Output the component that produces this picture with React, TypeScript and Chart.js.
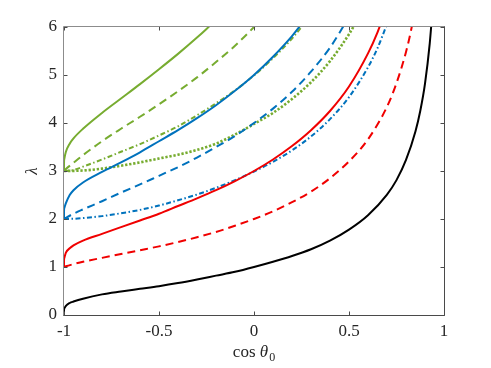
import React, { useEffect, useRef } from "react";
import { Chart, registerables } from "chart.js";
Chart.register(...registerables);

// ---- axis ticks ----
const xTicks = [-1, -0.5, 0, 0.5, 1];
const xTickLabels = ["-1", "-0.5", "0", "0.5", "1"];
const yTicks = [0, 1, 2, 3, 4, 5, 6];
const yTickLabels = ["0", "1", "2", "3", "4", "5", "6"];

// ---- curves (cos θ0 , λ) ----
const blackX = [-1, -0.9999, -0.999, -0.99, -0.97, -0.95, -0.9, -0.8, -0.7, -0.6, -0.5, -0.4, -0.3, -0.2, -0.1, 0, 0.1, 0.2, 0.3, 0.4, 0.5, 0.6, 0.7, 0.75, 0.8, 0.85, 0.875, 0.9, 0.925, 0.935];
const blackY = [0, 0.09, 0.13, 0.19, 0.25, 0.28, 0.34, 0.43, 0.49, 0.545, 0.6, 0.665, 0.74, 0.82, 0.9, 1.0, 1.11, 1.23, 1.37, 1.55, 1.78, 2.08, 2.51, 2.81, 3.23, 3.83, 4.25, 4.82, 5.66, 6.13];

const redSolidX = [-1, -0.9999, -0.999, -0.99, -0.97, -0.95, -0.9, -0.8, -0.7, -0.6, -0.5, -0.4, -0.3, -0.2, -0.1, 0, 0.1, 0.2, 0.3, 0.4, 0.5, 0.6, 0.65, 0.7];
const redSolidY = [1, 1.12, 1.18, 1.3, 1.39, 1.45, 1.55, 1.69, 1.83, 1.97, 2.11, 2.27, 2.43, 2.6, 2.79, 3.0, 3.24, 3.52, 3.85, 4.25, 4.76, 5.45, 5.89, 6.43];

const redDashX = [-1, -0.99, -0.95, -0.9, -0.8, -0.7, -0.6, -0.5, -0.4, -0.3, -0.2, -0.1, 0, 0.1, 0.2, 0.3, 0.4, 0.5, 0.6, 0.7, 0.75, 0.8, 0.825, 0.85];
const redDashY = [1, 1.015, 1.06, 1.11, 1.19, 1.27, 1.35, 1.43, 1.52, 1.62, 1.73, 1.86, 2.0, 2.16, 2.35, 2.57, 2.85, 3.2, 3.66, 4.34, 4.83, 5.48, 5.9, 6.42];

const blueSolidX = [-1, -0.9999, -0.999, -0.99, -0.97, -0.95, -0.9, -0.8, -0.7, -0.6, -0.5, -0.4, -0.3, -0.2, -0.1, 0, 0.1, 0.2, 0.25];
const blueSolidY = [2, 2.15, 2.22, 2.33, 2.5, 2.6, 2.76, 2.98, 3.18, 3.39, 3.62, 3.85, 4.1, 4.37, 4.67, 5.0, 5.38, 5.81, 6.06];

const blueDashX = [-1, -0.99, -0.95, -0.9, -0.8, -0.7, -0.6, -0.5, -0.4, -0.3, -0.2, -0.1, 0, 0.1, 0.2, 0.3, 0.4, 0.45, 0.5];
const blueDashY = [2, 2.025, 2.11, 2.2, 2.37, 2.55, 2.72, 2.9, 3.08, 3.28, 3.5, 3.73, 4.0, 4.3, 4.65, 5.07, 5.57, 5.88, 6.22];

const blueDashDotX = [-1, -0.95, -0.9, -0.8, -0.7, -0.6, -0.5, -0.4, -0.3, -0.2, -0.1, 0, 0.1, 0.2, 0.3, 0.4, 0.5, 0.6, 0.65, 0.7];
const blueDashDotY = [2, 2.005, 2.02, 2.06, 2.12, 2.19, 2.28, 2.39, 2.51, 2.65, 2.81, 2.99, 3.19, 3.43, 3.72, 4.08, 4.54, 5.16, 5.56, 6.06];

const greenSolidX = [-1, -0.9999, -0.999, -0.99, -0.97, -0.95, -0.9, -0.8, -0.7, -0.6, -0.5, -0.4, -0.3, -0.25, -0.2];
const greenSolidY = [3, 3.15, 3.24, 3.4, 3.57, 3.68, 3.88, 4.21, 4.51, 4.81, 5.12, 5.44, 5.78, 5.96, 6.15];

const greenDashX = [-1, -0.99, -0.95, -0.9, -0.8, -0.7, -0.6, -0.5, -0.4, -0.3, -0.2, -0.1, 0, 0.05];
const greenDashY = [3, 3.04, 3.17, 3.33, 3.62, 3.88, 4.13, 4.39, 4.66, 4.95, 5.27, 5.61, 6.0, 6.21];

const greenDashDotX = [-1, -0.95, -0.9, -0.8, -0.7, -0.6, -0.5, -0.4, -0.3, -0.2, -0.1, 0, 0.1, 0.2, 0.25, 0.3];
const greenDashDotY = [3, 3.02, 3.09, 3.24, 3.4, 3.56, 3.74, 3.93, 4.16, 4.41, 4.68, 4.99, 5.35, 5.76, 6.0, 6.25];

const greenDotX = [-1, -0.9, -0.8, -0.7, -0.6, -0.5, -0.4, -0.3, -0.2, -0.1, 0, 0.1, 0.2, 0.3, 0.4, 0.5, 0.55];
const greenDotY = [3, 3.01, 3.05, 3.11, 3.18, 3.26, 3.34, 3.44, 3.57, 3.76, 3.98, 4.21, 4.5, 4.85, 5.29, 5.85, 6.19];

const BLACK = "#000000";
const RED = "#f00000";
const BLUE = "#0072BD";
const GREEN = "#77AC30";

const SOLID: number[] = [];
const DASH = [8, 5];
const DASHDOT = [5, 2.5, 1.5, 2.5];
const DOT = [2.3, 1.8];

const FONT = "Liberation Serif";

function pts(xs: number[], ys: number[]) {
  return xs.map((x, i) => ({ x, y: ys[i] }));
}

function ds(xs: number[], ys: number[], color: string, dash: number[], width = 2) {
  return {
    data: pts(xs, ys),
    borderColor: color,
    backgroundColor: color,
    borderWidth: width,
    borderDash: dash,
    pointRadius: 0,
    fill: false,
    cubicInterpolationMode: "monotone" as const,
  };
}

const framePlugin = {
  id: "frame",
  afterDraw(chart: any) {
    const { ctx, chartArea: a, scales } = chart;
    const xs = scales.x;
    const ys = scales.y;
    ctx.save();
    ctx.lineWidth = 1;
    ctx.strokeStyle = "#4a4a4a";
    const L = Math.round(a.left) - 0.5;
    const R = Math.round(a.right) + 0.5;
    const T = Math.round(a.top) - 0.5;
    const B = Math.round(a.bottom) + 0.5;
    ctx.beginPath();
    for (const v of xTicks) {
      const px = Math.round(xs.getPixelForValue(v)) + 0.5;
      ctx.moveTo(px, B);
      ctx.lineTo(px, B - 4);
      ctx.moveTo(px, T);
      ctx.lineTo(px, T + 4);
    }
    for (const v of yTicks) {
      const py = Math.round(ys.getPixelForValue(v)) + 0.5;
      ctx.moveTo(L, py);
      ctx.lineTo(L + 4, py);
      ctx.moveTo(R, py);
      ctx.lineTo(R - 4, py);
    }
    ctx.stroke();
    // box
    ctx.strokeStyle = "#8c8c8c";
    ctx.beginPath();
    ctx.moveTo(L, B);
    ctx.lineTo(L, T);
    ctx.lineTo(R, T);
    ctx.stroke();
    ctx.strokeStyle = "#4a4a4a";
    ctx.beginPath();
    ctx.moveTo(L, B);
    ctx.lineTo(R, B);
    ctx.lineTo(R, T);
    ctx.stroke();

    // axis titles
    ctx.fillStyle = "#262626";
    ctx.textBaseline = "alphabetic";
    ctx.textAlign = "left";
    const cx = (a.left + a.right) / 2;
    const base = 357;
    ctx.font = `17px "${FONT}"`;
    const t1 = "cos ";
    const w1 = ctx.measureText(t1).width;
    ctx.font = `italic 17px "${FONT}"`;
    const t2 = "θ";
    const w2 = ctx.measureText(t2).width;
    ctx.font = `12px "${FONT}"`;
    const t3 = "0";
    const w3 = ctx.measureText(t3).width;
    let sx = cx - (w1 + w2 + w3 + 1) / 2;
    ctx.font = `17px "${FONT}"`;
    ctx.fillText(t1, sx, base);
    sx += w1;
    ctx.font = `italic 17px "${FONT}"`;
    ctx.fillText(t2, sx, base);
    sx += w2 + 1;
    ctx.font = `12px "${FONT}"`;
    ctx.fillText(t3, sx, base + 4);

    // y title (rotated)
    ctx.save();
    ctx.translate(37, (a.top + a.bottom) / 2);
    ctx.rotate(-Math.PI / 2);
    ctx.font = `italic 17px "${FONT}"`;
    ctx.textAlign = "center";
    ctx.fillText("λ", 0, 0);
    ctx.restore();
    ctx.restore();
  },
};

export default function App() {
  const ref = useRef<HTMLCanvasElement>(null);
  useEffect(() => {
    if (!ref.current) return;
    const chart = new Chart(ref.current, {
      type: "line",
      data: {
        datasets: [
          ds(blackX, blackY, BLACK, SOLID),
          ds(redSolidX, redSolidY, RED, SOLID),
          ds(redDashX, redDashY, RED, DASH),
          ds(blueSolidX, blueSolidY, BLUE, SOLID),
          ds(blueDashX, blueDashY, BLUE, DASH),
          ds(blueDashDotX, blueDashDotY, BLUE, DASHDOT),
          ds(greenSolidX, greenSolidY, GREEN, SOLID),
          ds(greenDashX, greenDashY, GREEN, DASH),
          ds(greenDashDotX, greenDashDotY, GREEN, DASHDOT),
          ds(greenDotX, greenDotY, GREEN, DOT, 2.6),
        ] as any,
      },
      options: {
        animation: false,
        responsive: false,
        devicePixelRatio: 1,
        layout: { padding: { left: 0, right: 47, top: 27, bottom: 0 } },
        plugins: { legend: { display: false }, tooltip: { enabled: false } },
        scales: {
          x: {
            type: "linear",
            min: -1,
            max: 1,
            grid: { display: false, drawTicks: false },
            border: { display: false },
            afterBuildTicks: (s: any) => {
              s.ticks = xTicks.map((v) => ({ value: v }));
            },
            afterFit: (s: any) => {
              s.height = 368 - 315;
            },
            ticks: {
              padding: 6,
              maxRotation: 0,
              autoSkip: false,
              color: "#262626",
              font: { family: FONT, size: 17 },
              callback: (v: any) => xTickLabels[xTicks.findIndex((t) => Math.abs(t - Number(v)) < 1e-9)] ?? "",
            },
          },
          y: {
            type: "linear",
            min: 0,
            max: 6,
            grid: { display: false, drawTicks: false },
            border: { display: false },
            afterBuildTicks: (s: any) => {
              s.ticks = yTicks.map((v) => ({ value: v }));
            },
            afterFit: (s: any) => {
              s.width = 64;
            },
            ticks: {
              padding: 7,
              autoSkip: false,
              color: "#262626",
              font: { family: FONT, size: 17 },
              callback: (v: any) => yTickLabels[yTicks.findIndex((t) => Math.abs(t - Number(v)) < 1e-9)] ?? "",
            },
          },
        },
      },
      plugins: [framePlugin],
    });
    return () => chart.destroy();
  }, []);
  return (
    <div style={{ position: "fixed", left: 0, top: 0, width: 491, height: 368, background: "#fff" }}>
      <canvas ref={ref} width={491} height={368} style={{ width: 491, height: 368, display: "block" }} />
    </div>
  );
}
